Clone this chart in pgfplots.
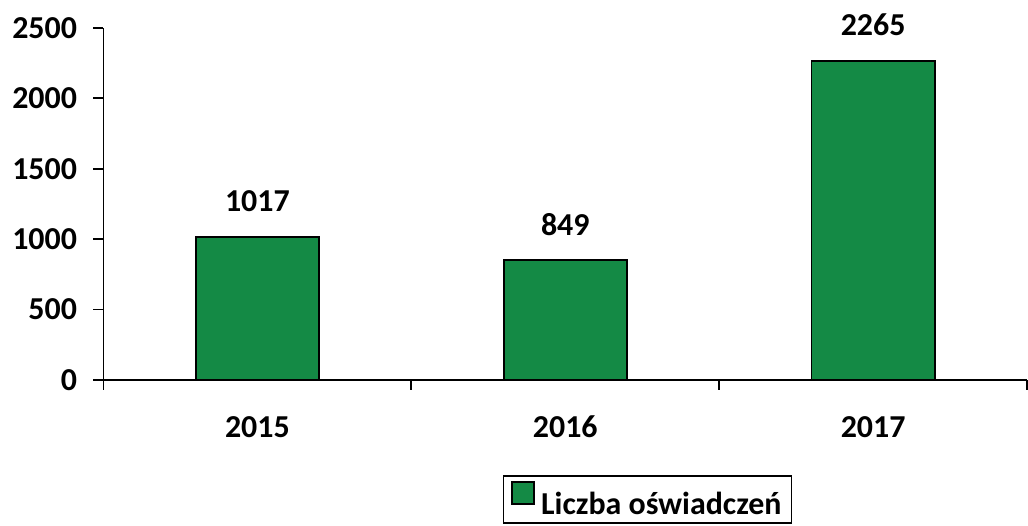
\documentclass[border={9bp 2bp 0bp 14bp}]{standalone}
\usepackage{pgfplots}
\pgfplotsset{compat=1.18}
\usepackage{fontspec}
\setmainfont{Carlito}
\definecolor{barg}{HTML}{148A45}
\newcommand{\lbl}{\bfseries\fontsize{32bp}{38bp}\selectfont}

\begin{document}
\begin{tikzpicture}
    \begin{axis}[
        scale only axis,
        width=926bp,
        height=353bp,
        ybar,
        bar width=0.4,
        xmin=-0.5, xmax=2.5,
        ymin=0, ymax=2500,
        axis lines=left,
        axis line style={-, line width=1.8bp},
        xtick={0,1,2},
        xticklabels={2015,2016,2017},
        minor xtick={-0.5,0.5,1.5,2.5},
        major x tick style={draw=none},
        minor tick length=10bp,
        ytick={0,500,1000,1500,2000,2500},
        major tick length=10bp,
        tick align=outside,
        tick style={line width=1.8bp, black},
        tick label style={font=\lbl},
        /pgf/number format/assume math mode=true,
        /pgf/number format/1000 sep={},
        xticklabel style={yshift=-23bp, text height=21bp, text depth=0pt},
        yticklabel style={xshift=-13bp},
        nodes near coords,
        every node near coord/.append style={font=\lbl, inner sep=0pt, yshift=24bp},
        legend image code/.code={\draw[#1] (0bp,0bp) rectangle (22bp,22bp);},
        legend style={at={(0.589,-0.27)}, anchor=north, draw=black, line width=1.8bp,
            font=\lbl, inner xsep=8bp, inner ysep=5bp, legend cell align=left,
            /tikz/every odd column/.append style={column sep=4bp},
            /tikz/every even column/.append style={column sep=8bp}},
    ]
        \addplot[draw=black, line width=1.8bp, fill=barg] coordinates {
            (0,1017)
            (1,849)
            (2,2265)
        };
        \legend{Liczba oświadczeń}
    \end{axis}
\end{tikzpicture}
\end{document}
